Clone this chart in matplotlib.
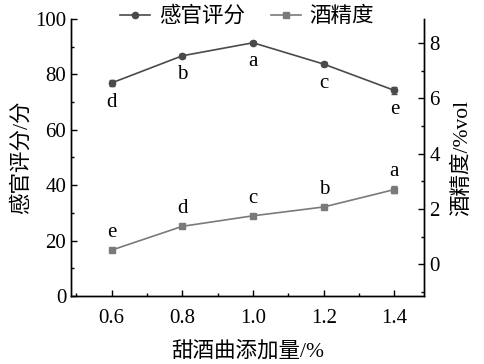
import matplotlib.pyplot as plt
from matplotlib.lines import Line2D
from matplotlib.ticker import MultipleLocator

plt.rcParams['font.family'] = ['Liberation Serif', 'Noto Sans CJK SC']

# data
dose = [0.6, 0.8, 1.0, 1.2, 1.4]
score = [76.9, 86.7, 91.4, 83.7, 74.2]
score_err = [1.0, 0.8, 0.6, 0.7, 1.3]
score_sig = ['d', 'b', 'a', 'c', 'e']
alcohol = [0.51, 1.37, 1.75, 2.07, 2.70]
alcohol_err = [0.05, 0.06, 0.05, 0.06, 0.13]
alcohol_sig = ['e', 'd', 'c', 'b', 'a']

fig = plt.figure(figsize=(4.84, 3.64), dpi=100)
ax = fig.add_axes([0.1467, 0.1868, 0.7303, 0.7612])
ax2 = ax.twinx()

c1 = '#4a4a4a'
c2 = '#7a7a7a'
ax.errorbar(dose, score, yerr=score_err, color=c1, marker='o', ms=4.5,
            lw=1.2, capsize=2, elinewidth=1)
ax2.errorbar(dose, alcohol, yerr=alcohol_err, color=c2, marker='s', ms=4.5,
             lw=1.2, capsize=2, elinewidth=1)

for x, y, s in zip(dose, score, score_sig):
    ax.text(x, y - 3.5, s, ha='center', va='top', fontsize=15)
for x, y, s in zip(dose, alcohol, alcohol_sig):
    ax2.text(x, y + 0.3, s, ha='center', va='bottom', fontsize=15)

ax.set_xlim(0.485, 1.485)
ax.set_ylim(0, 100)
ax2.set_ylim(-1.15, 8.87)
ax.set_xticks(dose)
ax.set_xticklabels(['0.6', '0.8', '1.0', '1.2', '1.4'])
ax.xaxis.set_minor_locator(MultipleLocator(0.1))
ax.yaxis.set_major_locator(MultipleLocator(20))
ax.yaxis.set_minor_locator(MultipleLocator(10))
ax2.yaxis.set_major_locator(MultipleLocator(2))
ax2.yaxis.set_minor_locator(MultipleLocator(1))

for a in (ax, ax2):
    a.spines['top'].set_visible(False)
    for sp in a.spines.values():
        sp.set_linewidth(1.0)
    a.tick_params(which='both', direction='in', labelsize=15, width=1)
    a.tick_params(which='major', length=4)
    a.tick_params(which='minor', length=2.5)
ax.tick_params(axis='x', pad=9)

ax.set_xlabel('甜酒曲添加量/%', fontsize=15.5, labelpad=10)
ax.set_ylabel('感官评分/分', fontsize=15.5, labelpad=2)
ax2.set_ylabel('酒精度/%vol', fontsize=15.5, labelpad=9)

h1 = Line2D([], [], color=c1, marker='o', ms=4.5, lw=1.2)
h2 = Line2D([], [], color=c2, marker='s', ms=4.5, lw=1.2)
fig.legend([h1, h2], ['感官评分', '酒精度'], loc='upper center',
           bbox_to_anchor=(0.51, 1.035), ncol=2, frameon=False, fontsize=15.5,
           handlelength=1.4, columnspacing=1.2, handletextpad=0.4)

fig.savefig('out.png', dpi=100)
